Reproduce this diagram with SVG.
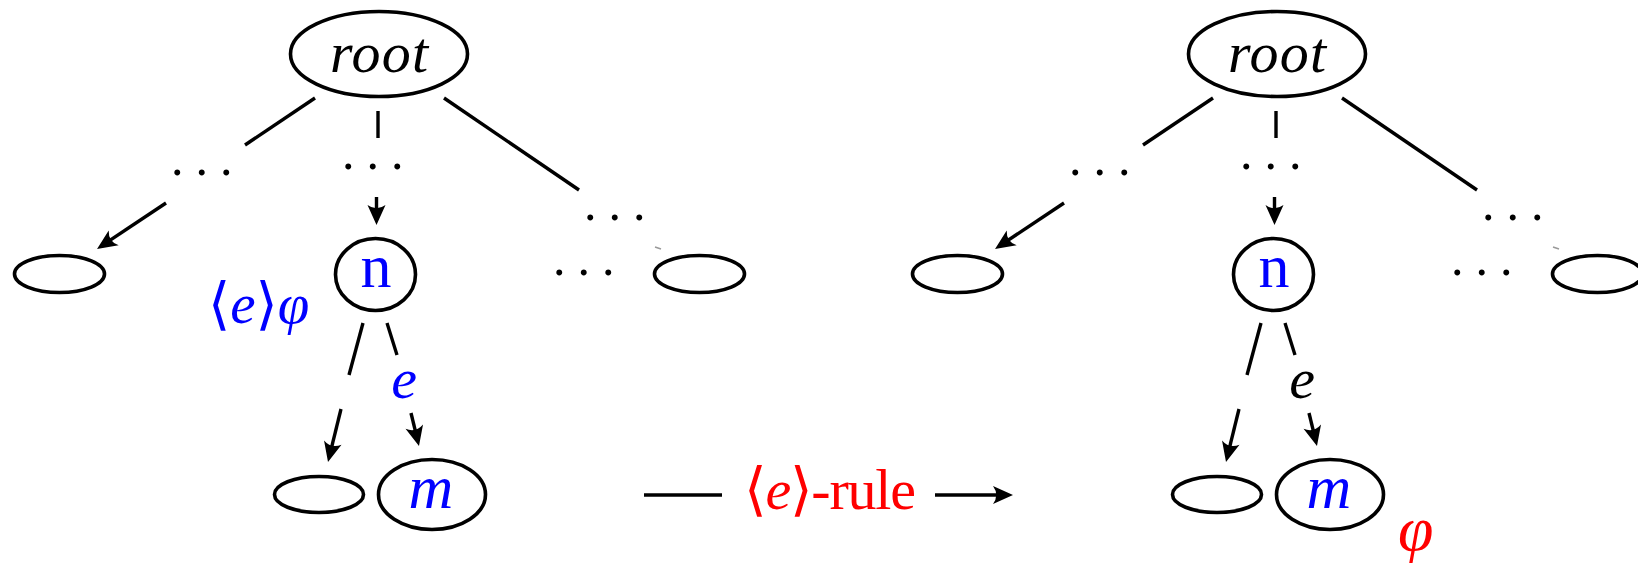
<svg xmlns="http://www.w3.org/2000/svg" width="1638" height="563" viewBox="0 0 1638 563">
<style>
.nd{fill:none;stroke:#000;stroke-width:3.6}
.ln{fill:none;stroke:#000;stroke-width:3.4}
.ar{fill:none;stroke:#000;stroke-width:3.4;marker-end:url(#ah)}
.t{font-family:"Liberation Serif","DejaVu Serif",serif}
.it{font-style:italic}
.dots{font-family:"Liberation Serif",serif;font-size:50px;letter-spacing:12px;fill:#000}
.blue{fill:#0000ff}
.red{fill:#ff0000}
.tick{stroke:#999;stroke-width:1.5}
</style>
<defs>
<marker id="ah" markerUnits="userSpaceOnUse" markerWidth="40" markerHeight="40" viewBox="-20 -20 40 40" refX="0" refY="0" orient="auto" overflow="visible">
<path d="M5,0 L-15,-9 Q-8.5,0 -15,9 Z" fill="#000"/>
</marker>
</defs>

<g id="left-tree">
<g id="L-root"><ellipse class="nd" cx="379" cy="54" rx="88.5" ry="42.5"/><text class="t it" x="330" y="72" font-size="58" textLength="98">root</text></g>
<g id="L-dots"><text class="dots" x="171" y="175">...</text><text class="dots" x="342" y="169">...</text><text class="dots" x="584" y="220">...</text><text class="dots" x="553" y="275">...</text></g>
<g id="L-leaf1"><ellipse class="nd" cx="59.5" cy="274" rx="45" ry="18.5"/></g>
<g id="L-n"><ellipse class="nd" cx="375.5" cy="274.5" rx="40" ry="36"/><text class="t blue" x="376" y="287" font-size="62" text-anchor="middle">n</text></g>
<g id="L-formula"><text class="t blue" x="208" y="323" font-size="57">⟨<tspan class="it">e</tspan>⟩<tspan class="it">φ</tspan></text></g>
<g id="L-leaf2"><ellipse class="nd" cx="699.5" cy="274" rx="45" ry="18.5"/><line class="tick" x1="655" y1="247" x2="661" y2="249"/></g>
<g id="L-leaf3"><ellipse class="nd" cx="319" cy="494.5" rx="44.5" ry="18"/></g>
<g id="L-m"><ellipse class="nd" cx="432" cy="494.5" rx="53.5" ry="35"/><text class="t it blue" x="431" y="508" font-size="62" text-anchor="middle">m</text></g>
<g id="L-elabel"><text class="t it blue" x="404" y="398" font-size="58" text-anchor="middle">e</text></g>
</g>

<g id="right-tree" transform="translate(898,0)">
<g id="R-root"><ellipse class="nd" cx="379" cy="54" rx="88.5" ry="42.5"/><text class="t it" x="330" y="72" font-size="58" textLength="98">root</text></g>
<g id="R-dots"><text class="dots" x="171" y="175">...</text><text class="dots" x="342" y="169">...</text><text class="dots" x="584" y="220">...</text><text class="dots" x="553" y="275">...</text></g>
<g id="R-leaf1"><ellipse class="nd" cx="59.5" cy="274" rx="45" ry="18.5"/></g>
<g id="R-n"><ellipse class="nd" cx="375.5" cy="274.5" rx="40" ry="36"/><text class="t blue" x="376" y="287" font-size="62" text-anchor="middle">n</text></g>
<g id="R-leaf2"><ellipse class="nd" cx="699.5" cy="274" rx="45" ry="18.5"/><line class="tick" x1="655" y1="247" x2="661" y2="249"/></g>
<g id="R-leaf3"><ellipse class="nd" cx="319" cy="494.5" rx="44.5" ry="18"/></g>
<g id="R-m"><ellipse class="nd" cx="432" cy="494.5" rx="53.5" ry="35"/><text class="t it blue" x="431" y="508" font-size="62" text-anchor="middle">m</text></g>
<g id="R-elabel"><text class="t it" x="404" y="398" font-size="58" text-anchor="middle">e</text></g>
<g id="R-phi"><text class="t it red" x="500" y="550" font-size="64">φ</text></g>
</g>

<g id="rule">
<text class="t red" x="744" y="509" font-size="58" textLength="172">⟨<tspan class="it">e</tspan>⟩-rule</text>
</g>

<g id="connectors">
<g id="L-conn">
<line class="ln" x1="315" y1="98" x2="245" y2="145"/>
<line class="ln" x1="378" y1="111" x2="378" y2="138"/>
<line class="ln" x1="444" y1="98" x2="579" y2="190"/>
<line class="ar" x1="166" y1="203" x2="101.2" y2="246.2"/>
<line class="ar" x1="376.5" y1="197" x2="376.5" y2="220"/>
<line class="ln" x1="363" y1="323" x2="349" y2="375"/>
<line class="ar" x1="341" y1="409" x2="329.2" y2="457.1"/>
<line class="ln" x1="387" y1="323" x2="397" y2="355"/>
<line class="ar" x1="411" y1="413" x2="417.8" y2="441.2"/>
</g>
<g id="R-conn" transform="translate(898,0)">
<line class="ln" x1="315" y1="98" x2="245" y2="145"/>
<line class="ln" x1="378" y1="111" x2="378" y2="138"/>
<line class="ln" x1="444" y1="98" x2="579" y2="190"/>
<line class="ar" x1="166" y1="203" x2="101.2" y2="246.2"/>
<line class="ar" x1="376.5" y1="197" x2="376.5" y2="220"/>
<line class="ln" x1="363" y1="323" x2="349" y2="375"/>
<line class="ar" x1="341" y1="409" x2="329.2" y2="457.1"/>
<line class="ln" x1="387" y1="323" x2="397" y2="355"/>
<line class="ar" x1="411" y1="413" x2="417.8" y2="441.2"/>
</g>
<line class="ln" x1="644" y1="495" x2="722" y2="495"/>
<line class="ar" x1="935" y1="495" x2="1008" y2="495"/>
</g>
</svg>
